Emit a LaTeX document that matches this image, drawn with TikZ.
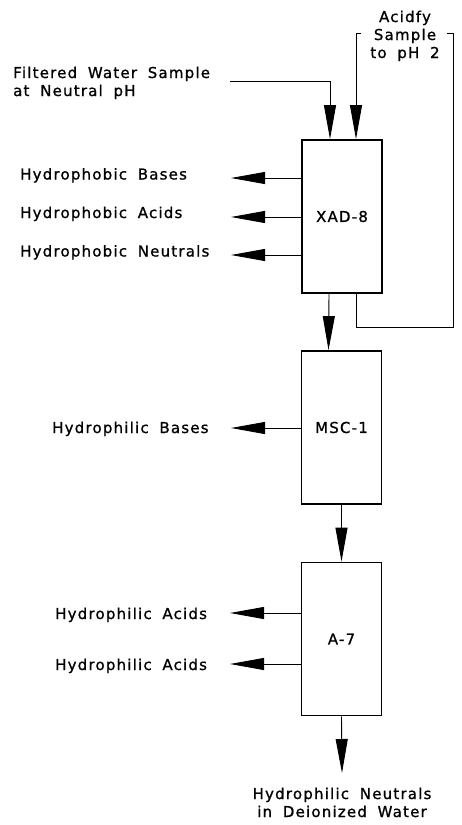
\documentclass[tikz,border=0pt]{standalone}
\usepackage{fontspec}
\newfontfamily\labfont[LetterSpace=8,WordSpace=1.8,FakeBold=1]{DejaVu Sans}
\usetikzlibrary{arrows.meta}
\begin{document}
\begin{tikzpicture}[x=1pt,y=-1pt,
  lab/.style={font=\fontsize{15}{18}\selectfont\labfont, inner sep=0pt},
  box/.style={draw, line width=1.8pt, minimum width=80pt, minimum height=153pt,
    inner sep=0pt, font=\fontsize{15}{18}\selectfont\labfont},
  ln/.style={line width=0.9pt},
  arr/.style={line width=0.9pt, -{Triangle[length=34pt,width=12pt]}}]
\useasboundingbox (0,0) rectangle (462,825);
% columns
\node[box] (xad) at (342,216.5) {XAD-8};
\node[box] (msc) at (341.5,427.5) {MSC-1};
\node[box] (a7) at (341.5,639) {A-7};
% inputs
\node[lab, align=left, anchor=base west] (filt) at (13,96) {Filtered Water Sample\\at Neutral pH};
\node[lab, align=center, anchor=base] (acid) at (405,58) {Acidfy\\Sample\\to pH 2};
\coordinate (f0) at (230,81);
\coordinate (f1) at (330,81);
\draw[arr] (f0) -- (f1) -- (f1 |- xad.north);
\coordinate (a0) at (361,33);
\coordinate (a1) at (356,33);
\draw[arr] (a0) -- (a1) -- (a1 |- xad.north);
\coordinate (r0) at (356,327);
\coordinate (r1) at (453,327);
\coordinate (r2) at (453,33);
\coordinate (r3) at (447,33);
\draw[ln] (r0 |- xad.south) -- (r0) -- (r1) -- (r2) -- (r3);
% XAD-8 outputs
\node[lab, anchor=base west] (hpb) at (20,179.5) {Hydrophobic Bases};
\node[lab, anchor=base west] (hpa) at (20,218) {Hydrophobic Acids};
\node[lab, anchor=base west] (hpn) at (20,256.5) {Hydrophobic Neutrals};
\coordinate (t1) at (231,178);
\coordinate (t2) at (231,217);
\coordinate (t3) at (231,255);
\draw[arr] (xad.west |- t1) -- (t1);
\draw[arr] (xad.west |- t2) -- (t2);
\draw[arr] (xad.west |- t3) -- (t3);
% MSC-1 output
\node[lab, anchor=base west] (hlb) at (52,433) {Hydrophilic Bases};
\coordinate (t4) at (231,428);
\draw[arr] (msc.west |- t4) -- (t4);
% A-7 outputs
\node[lab, anchor=base west] (hla1) at (55,619) {Hydrophilic Acids};
\node[lab, anchor=base west] (hla2) at (55,670) {Hydrophilic Acids};
\coordinate (t5) at (230,613);
\coordinate (t6) at (230,664);
\draw[arr] (a7.west |- t5) -- (t5);
\draw[arr] (a7.west |- t6) -- (t6);
% flow down
\draw[arr] ([xshift=-13pt]xad.south) -- ([xshift=-13pt]msc.north);
\draw[arr] (msc.south) -- (a7.north);
\coordinate (bot) at (342,773);
\draw[arr] (a7.south) -- (bot);
\node[lab, align=center, anchor=base] (out) at (342,817) {Hydrophilic Neutrals\\in Deionized Water};
\end{tikzpicture}
\end{document}
